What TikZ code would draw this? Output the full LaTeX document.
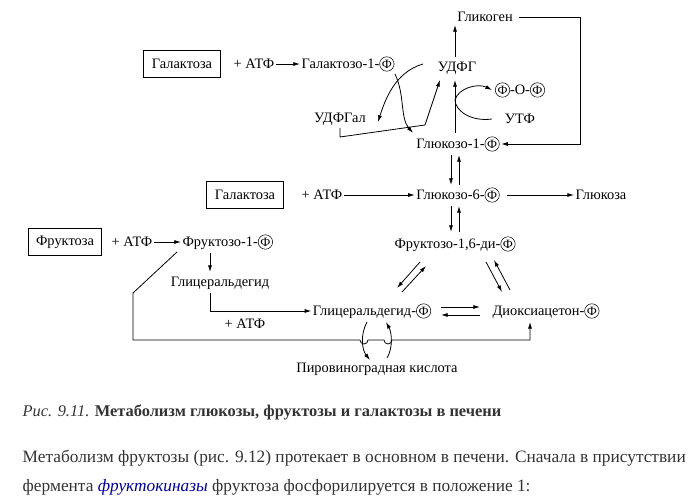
\documentclass[tikz,border=0pt]{standalone}
\usepackage{fontspec}
\setmainfont{Liberation Serif}
\usetikzlibrary{arrows.meta}
\newcommand\phc{\tikz[baseline=(c.base)]\node[draw,circle,inner sep=0.4pt,font=\fontsize{9.5}{9}\selectfont](c){Ф};}
\tikzset{
  lbl/.style={font=\fontsize{10.8}{12}\selectfont, inner sep=1pt},
  boxed/.style={lbl, draw, thick, minimum width=50pt, minimum height=20pt, inner xsep=6pt},
  arr/.style={-{Latex[length=5pt,width=3pt]}, semithick},
  ln/.style={semithick}
}
\begin{document}
\begin{tikzpicture}[x=0.75pt,y=-0.75pt]
\useasboundingbox (0,0) rectangle (700,502);
% upper part
\node[lbl] (glycogen) at (485,17) {Гликоген};
\node[boxed] (gal1) at (182,64) {Галактоза};
\node[lbl] (atp1) at (254,64) {+ АТФ};
\node[lbl, anchor=west] (gal1p) at (300,64) {Галактозо-1-\phc};
\node[lbl] (udpg) at (457,68) {УДФГ};
\node[lbl] (ppi) at (520,90) {\phc-О-\phc};
\node[lbl] (utp) at (520,119) {УТФ};
\node[lbl] (udpgal) at (340,119) {УДФГал};
\node[lbl] (glc1p) at (458,144) {Глюкозо-1-\phc};
\draw[arr] (atp1.east) -- (gal1p.west);
\draw[arr] (455,57) -- (455,25);
\draw[arr] (glycogen.east)++(5,0) -- (580,17) -- (580,144) -- (glc1p.east);
\draw[arr] (455,133) -- (455,80);
\draw[arr] (423,64) .. controls (395,72) and (385,100) .. (378,122);
\draw[arr] (395,74) .. controls (405,95) and (400,118) .. (413,133);
\draw[arr] (340,128) -- (340,137) -- (425,125) -- (440,80);
\draw[arr] (492,119) .. controls (470,122) and (455,110) .. (455,100) .. controls (458,88) and (478,83) .. (492,90);
% middle part
\node[boxed] (gal2) at (245,195) {Галактоза};
\node[lbl] (atp2) at (322,195) {+ АТФ};
\node[lbl] (glc6p) at (458,195) {Глюкозо-6-\phc};
\node[lbl] (glc) at (601,195) {Глюкоза};
\node[lbl] (fbp) at (455,244) {Фруктозо-1,6-ди-\phc};
\draw[arr] (atp2.east) -- (glc6p.west);
\draw[arr] (glc6p.east)++(6,0) -- (glc.west);
\draw[arr] (451,155) -- (451,185);
\draw[arr] (459,185) -- (459,155);
\draw[arr] (451,206) -- (451,232);
\draw[arr] (459,232) -- (459,206);
% lower part
\node[boxed] (fru) at (65,242) {Фруктоза};
\node[lbl] (atp3) at (132,242) {+ АТФ};
\node[lbl, anchor=west] (fru1p) at (181,242) {Фруктозо-1-\phc};
\node[lbl] (glyald) at (220,283) {Глицеральдегид};
\node[lbl] (atp4) at (245,324) {+ АТФ};
\node[lbl] (gap) at (372,311) {Глицеральдегид-\phc};
\node[lbl] (dhap) at (546,311) {Диоксиацетон-\phc};
\node[lbl] (pyr) at (377,369) {Пировиноградная кислота};
\draw[arr] (atp3.east) -- (fru1p.west);
\draw[arr] (210,253) -- (210,272);
\draw[arr] (210,293) -- (210,311) -- (gap.west);
\draw[arr] (441,307) -- (480,307);
\draw[arr] (480,315) -- (441,315);
\draw[arr] (420,262) -- (397,288);
\draw[arr] (402,292) -- (426,266);
\draw[arr] (486,262) -- (502,292);
\draw[arr] (510,290) -- (494,260);
\draw[arr] (177,252) -- (133,293) -- (133,340) -- (360,340) arc[start angle=180,end angle=0,radius=4] -- (384,340) arc[start angle=180,end angle=0,radius=4] -- (530,340) -- (530,322);
\draw[arr] (367,322) .. controls (360,335) and (362,350) .. (370,360);
\draw[arr] (387,358) .. controls (393,348) and (392,333) .. (386,322);
% caption and text
\node[anchor=west, font=\fontsize{12.3}{14}\selectfont, text=black!80] (cap) at (18,412) {\textit{Рис. 9.11.} \textbf{Метаболизм глюкозы, фруктозы и галактозы в печени}};
\node[anchor=west, font=\fontsize{13}{14}\selectfont, text=black!80] (par1) at (18,458) {Метаболизм фруктозы (рис. 9.12) протекает в основном в печени. Сначала в присутствии};
\node[anchor=west, font=\fontsize{13}{14}\selectfont, text=black!80] (par2) at (18,487) {фермента \textcolor{blue!60!black}{\textit{фруктокиназы}} фруктоза фосфорилируется в положение 1:};
\end{tikzpicture}
\end{document}
